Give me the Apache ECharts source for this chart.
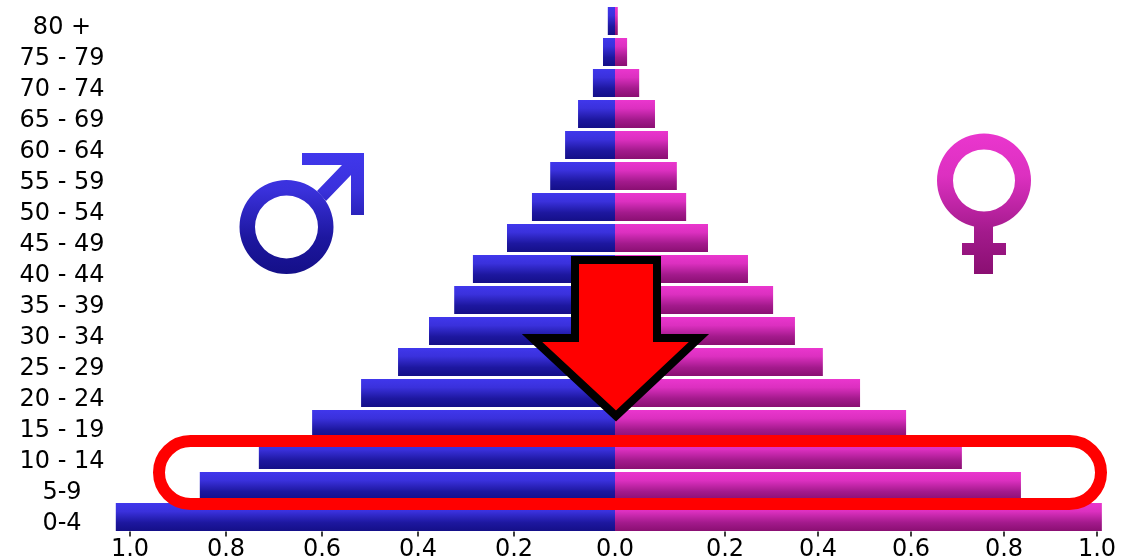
<!DOCTYPE html>
<html>
<head>
<meta charset="utf-8">
<style>html,body{margin:0;padding:0;background:#fff}#c{width:1139px;height:560px}</style>
<script src="https://cdn.jsdelivr.net/npm/echarts@6/dist/echarts.min.js"></script>
</head>
<body>
<div id="c"></div>
<script>
var ageGroups = ['80 +','75 - 79','70 - 74','65 - 69','60 - 64','55 - 59','50 - 54','45 - 49','40 - 44','35 - 39','30 - 34','25 - 29','20 - 24','15 - 19','10 - 14','5-9','0-4'];
var maleValues = [0.015,0.025,0.046,0.077,0.104,0.135,0.173,0.225,0.296,0.335,0.3875,0.452,0.529,0.631,0.742,0.865,1.04];
var femaleValues = [0.006,0.026,0.052,0.086,0.114,0.133,0.153,0.2,0.286,0.34,0.387,0.447,0.527,0.626,0.746,0.873,1.047];
var tickValues = [0.2,0.4,0.6,0.8,1.0];

var FONT = '"DejaVu Sans"';
var G = echarts.graphic.LinearGradient;
var blueStops = [{offset:0,color:'#4037ec'},{offset:0.3,color:'#3a31dc'},{offset:0.7,color:'#1d179f'},{offset:1,color:'#140f88'}];
var pinkStops = [{offset:0,color:'#ea36ce'},{offset:0.3,color:'#dc30c0'},{offset:0.7,color:'#a31a8c'},{offset:1,color:'#8a0f72'}];

function hiddenCat(gridIndex){
  return {type:'category',gridIndex:gridIndex,data:ageGroups,inverse:true,show:false};
}
function barSeries(name,data,x,y,stops){
  return {type:'bar',name:name,xAxisIndex:x,yAxisIndex:y,data:data,barWidth:28,silent:true,animation:false,
    itemStyle:{color:new G(0,0,0,1,stops)}};
}
function tickAxis(gridIndex,inverse){
  return {type:'value',gridIndex:gridIndex,min:0,max:1,inverse:inverse,position:'bottom',
    splitLine:{show:false},axisLine:{show:false},
    axisTick:{show:true,customValues:tickValues,length:5,inside:false,lineStyle:{color:'#000',width:1.5}},
    axisLabel:{show:true,customValues:tickValues,margin:6,color:'#000',fontFamily:FONT,fontSize:24,
      formatter:function(v){return v.toFixed(1);}}};
}

var option = {
  backgroundColor:'#fff',
  animation:false,
  grid:[
    {left:100,width:515,top:5.5,height:527,outerBoundsMode:'none'},
    {left:615,width:500,top:5.5,height:527,outerBoundsMode:'none'},
    {left:130,width:480,top:5.5,height:526,outerBoundsMode:'none'},
    {left:632,width:465,top:5.5,height:526,outerBoundsMode:'none'},
    {left:100,width:515,top:12.5,height:527,outerBoundsMode:'none'}
  ],
  xAxis:[
    {type:'value',gridIndex:0,min:0,max:515/480,inverse:true,position:'bottom',
      splitLine:{show:false},axisLine:{show:false},axisTick:{show:false},
      axisLabel:{show:true,customValues:[0],margin:5,color:'#000',fontFamily:FONT,fontSize:24,
        formatter:function(v){return v.toFixed(1);}}},
    {type:'value',gridIndex:1,min:0,max:500/465,show:false,splitLine:{show:false}},
    tickAxis(2,true),
    tickAxis(3,false),
    {type:'value',gridIndex:4,min:0,max:1,show:false,splitLine:{show:false}}
  ],
  yAxis:[
    hiddenCat(0),hiddenCat(1),hiddenCat(2),hiddenCat(3),
    {type:'category',gridIndex:4,data:ageGroups,inverse:true,position:'left',
      axisLine:{show:false,onZero:false},axisTick:{show:false},splitLine:{show:false},
      axisLabel:{show:true,interval:0,margin:38,align:'center',color:'#000',fontFamily:FONT,fontSize:24}}
  ],
  series:[
    barSeries('Male',maleValues,0,0,blueStops),
    barSeries('Female',femaleValues,1,1,pinkStops)
  ],
  graphic:[
    {type:'ring',z:100,silent:true,shape:{cx:286.5,cy:227,r:47,r0:31.5},style:{fill:new G(0,153,0,274,blueStops.slice(0),true)}},
    {type:'polygon',z:100,silent:true,shape:{points:[[302,153],[364,153],[364,215],[351,215],[351,175],[326,201],[317,191],[342,165],[302,165]]},style:{fill:new G(0,153,0,274,blueStops.slice(0),true)}},
    {type:'ring',z:100,silent:true,shape:{cx:984,cy:180.5,r:47,r0:31},style:{fill:new G(0,134,0,274,pinkStops.slice(0),true)}},
    {type:'polygon',z:100,silent:true,shape:{points:[[974,226],[993,226],[993,243],[1006,243],[1006,255],[993,255],[993,274],[974,274],[974,255],[962,255],[962,243],[974,243]]},style:{fill:new G(0,134,0,274,pinkStops.slice(0),true)}},
    {type:'polygon',z:110,silent:true,shape:{points:[[575,260],[657,260],[657,338],[699,338],[616,416],[532,338],[575,338]]},style:{fill:'#ff0000',stroke:'#000',lineWidth:8,lineJoin:'miter',miterLimit:10}},
    {type:'rect',z:120,silent:true,shape:{x:159,y:441,width:942,height:63,r:31.5},style:{fill:'none',stroke:'#ff0000',lineWidth:12}}
  ]
};
var chart = echarts.init(document.getElementById('c'),null,{renderer:'canvas'});
chart.setOption(option);
</script>
</body>
</html>
